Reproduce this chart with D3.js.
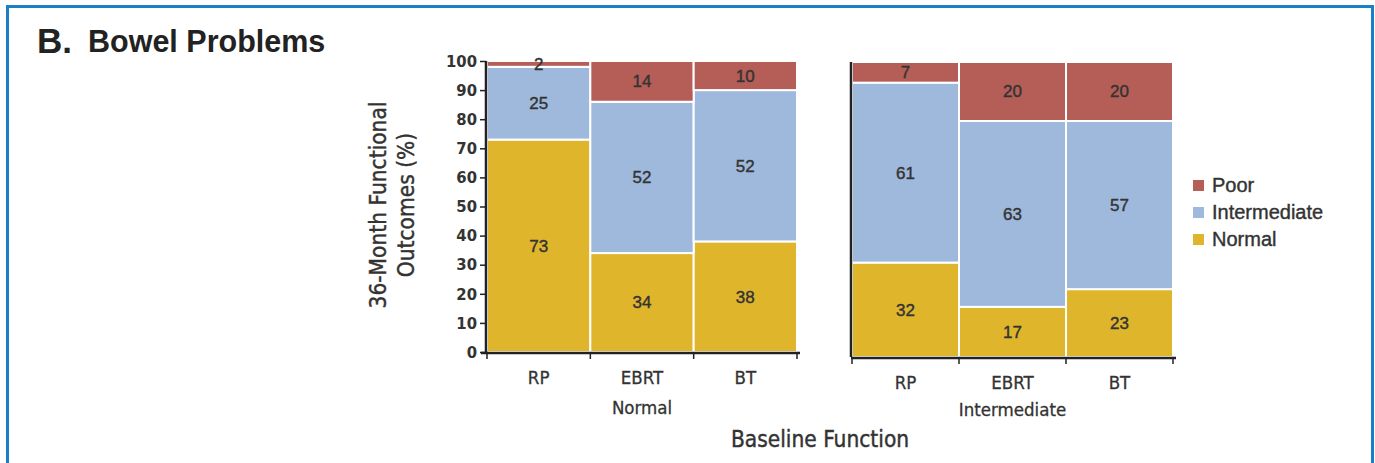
<!DOCTYPE html>
<html>
<head>
<meta charset="utf-8">
<script src="https://cdn.jsdelivr.net/npm/d3@7"></script>
<style>
  body { margin: 0; background: #fff; }
  svg { display: block; }
</style>
</head>
<body>
<svg></svg>
<script>
// data
const treatments = ["RP", "EBRT", "BT"];
const baselineGroups = ["Normal", "Intermediate"];
const outcomes = ["Normal", "Intermediate", "Poor"];   // stacked bottom -> top
const legendOrder = ["Poor", "Intermediate", "Normal"];
const yTicks = [0, 10, 20, 30, 40, 50, 60, 70, 80, 90, 100];

// values per baseline group, per outcome, per treatment (RP, EBRT, BT)
const normalBaselineNormal = [73, 34, 38];
const normalBaselineIntermediate = [25, 52, 52];
const normalBaselinePoor = [2, 14, 10];
const interBaselineNormal = [32, 17, 23];
const interBaselineIntermediate = [61, 63, 57];
const interBaselinePoor = [7, 20, 20];

const colors = { Poor: "#b55e57", Intermediate: "#9eb9dc", Normal: "#dfb52c" };
const textColor = "#333";
const sans = "'Liberation Sans', Arial, sans-serif";
const cond = "'DejaVu Sans Condensed', 'DejaVu Sans', sans-serif";

const width = 1375, height = 463;
const svg = d3.select("svg").attr("width", width).attr("height", height);

// blue frame
svg.append("rect")
    .attr("x", 7.5).attr("y", 6.5)
    .attr("width", 1365).attr("height", 480)
    .attr("fill", "none")
    .attr("stroke", "#1a7fc6")
    .attr("stroke-width", 3);

// title
const title = svg.append("text")
    .attr("y", 52)
    .attr("font-family", sans)
    .attr("font-weight", "bold")
    .attr("fill", "#222");
title.append("tspan").attr("x", 37).attr("y", 53).attr("font-size", 35).text("B.");
title.append("tspan").attr("x", 88).attr("y", 52).attr("font-size", 30.5).text("Bowel Problems");

const panels = [
    {
        group: baselineGroups[0],
        x0: 487, x1: 797, top: 61, bottom: 352, showTicks: true, groupY: 56,
        values: { Normal: normalBaselineNormal, Intermediate: normalBaselineIntermediate, Poor: normalBaselinePoor }
    },
    {
        group: baselineGroups[1],
        x0: 852, x1: 1173, top: 62, bottom: 357, showTicks: false, groupY: 53,
        values: { Normal: interBaselineNormal, Intermediate: interBaselineIntermediate, Poor: interBaselinePoor }
    }
];

panels.forEach(p => {
    const xScale = d3.scaleBand().domain(treatments).range([p.x0, p.x1]).padding(0);
    const yScale = d3.scaleLinear().domain([0, 100]).range([p.bottom, p.top]);

    const rows = treatments.map((t, i) => {
        const row = { treatment: t };
        outcomes.forEach(o => row[o] = p.values[o][i]);
        return row;
    });
    const stack = d3.stack().keys(outcomes)(rows);

    const g = svg.append("g");
    const layers = g.selectAll("g.layer")
        .data(stack)
        .enter().append("g")
        .attr("fill", d => colors[d.key]);

    layers.selectAll("rect")
        .data(d => d)
        .enter().append("rect")
        .attr("x", d => xScale(d.data.treatment))
        .attr("y", d => yScale(d[1]))
        .attr("width", xScale.bandwidth())
        .attr("height", d => yScale(d[0]) - yScale(d[1]))
        .attr("stroke", "#fff")
        .attr("stroke-width", 2);

    // value labels
    layers.selectAll("text")
        .data(d => d.map(s => Object.assign({ v: s[1] - s[0] }, s)))
        .enter().append("text")
        .attr("x", d => xScale(d.data.treatment) + xScale.bandwidth() / 2)
        .attr("y", d => yScale((d[0] + d[1]) / 2))
        .attr("dy", "0.35em")
        .attr("text-anchor", "middle")
        .attr("font-family", sans)
        .attr("font-size", 17)
        .attr("fill", textColor)
        .attr("stroke", textColor)
        .attr("stroke-width", 0.4)
        .text(d => d.v);

    // y axis
    const yAxis = d3.axisLeft(yScale).tickValues(p.showTicks ? yTicks : []).tickSize(6).tickPadding(3);
    const yAxisGroup = g.append("g")
        .attr("transform", `translate(${p.x0 - 1}, 0)`)
        .call(yAxis);
    yAxisGroup.select(".domain").attr("d", `M0,${p.top}V${p.bottom}`).attr("stroke", "#222").attr("stroke-width", 2.5);
    yAxisGroup.selectAll(".tick line").attr("stroke", "#222").attr("stroke-width", 1.5);
    yAxisGroup.selectAll("text")
        .attr("font-family", cond)
        .attr("font-weight", "bold")
        .attr("font-size", 16.5)
        .attr("fill", textColor);

    // x axis with ticks on bar boundaries
    const xAxisGroup = g.append("g").attr("transform", `translate(0, ${p.bottom + 1})`);
    const left = p.showTicks ? p.x0 - 6 : p.x0 - 1;
    xAxisGroup.append("path")
        .attr("d", `M${left},0H${p.x1 + 3}`)
        .attr("stroke", "#222").attr("stroke-width", 2.5);
    const edges = treatments.map(t => xScale(t)).concat([p.x1]);
    xAxisGroup.selectAll("line")
        .data(edges)
        .enter().append("line")
        .attr("x1", d => d).attr("x2", d => d)
        .attr("y1", 0).attr("y2", 6)
        .attr("stroke", "#222").attr("stroke-width", 1.5);
    xAxisGroup.selectAll("text.cat")
        .data(treatments)
        .enter().append("text")
        .attr("x", d => xScale(d) + xScale.bandwidth() / 2)
        .attr("y", 31)
        .attr("text-anchor", "middle")
        .attr("font-family", cond)
        .attr("font-size", 18.5)
        .attr("fill", textColor)
        .attr("stroke", textColor)
        .attr("stroke-width", 0.3)
        .text(d => d);
    xAxisGroup.append("text")
        .attr("x", xScale("EBRT") + xScale.bandwidth() / 2)
        .attr("y", p.groupY + 5)
        .attr("text-anchor", "middle")
        .attr("font-family", cond)
        .attr("font-size", 18.5)
        .attr("fill", textColor)
        .attr("stroke", textColor)
        .attr("stroke-width", 0.3)
        .text(p.group);
});

// axis titles
svg.append("text")
    .attr("transform", "translate(392, 205) rotate(-90)")
    .attr("text-anchor", "middle")
    .attr("font-family", cond)
    .attr("font-size", 22.5)
    .attr("fill", textColor)
    .attr("stroke", textColor)
    .attr("stroke-width", 0.4)
    .selectAll("tspan")
    .data(["36-Month Functional", "Outcomes (%)"])
    .enter().append("tspan")
    .attr("x", 0)
    .attr("y", (d, i) => i === 0 ? -6 : 22)
    .text(d => d);

svg.append("text")
    .attr("x", 820).attr("y", 447)
    .attr("text-anchor", "middle")
    .attr("font-family", cond)
    .attr("font-size", 22.5)
    .attr("fill", textColor)
    .attr("stroke", textColor)
    .attr("stroke-width", 0.4)
    .text("Baseline Function");

// legend
const legend = svg.append("g").attr("transform", "translate(1193, 185)");
const items = legend.selectAll("g")
    .data(legendOrder)
    .enter().append("g")
    .attr("transform", (d, i) => `translate(0, ${i * 27})`);
items.append("rect")
    .attr("x", 0).attr("y", -5)
    .attr("width", 11).attr("height", 11)
    .attr("fill", d => colors[d]);
items.append("text")
    .attr("x", 19).attr("y", 0)
    .attr("dy", "0.36em")
    .attr("font-family", sans)
    .attr("font-size", 20)
    .attr("fill", textColor)
    .attr("stroke", textColor)
    .attr("stroke-width", 0.4)
    .text(d => d);
</script>
</body>
</html>
